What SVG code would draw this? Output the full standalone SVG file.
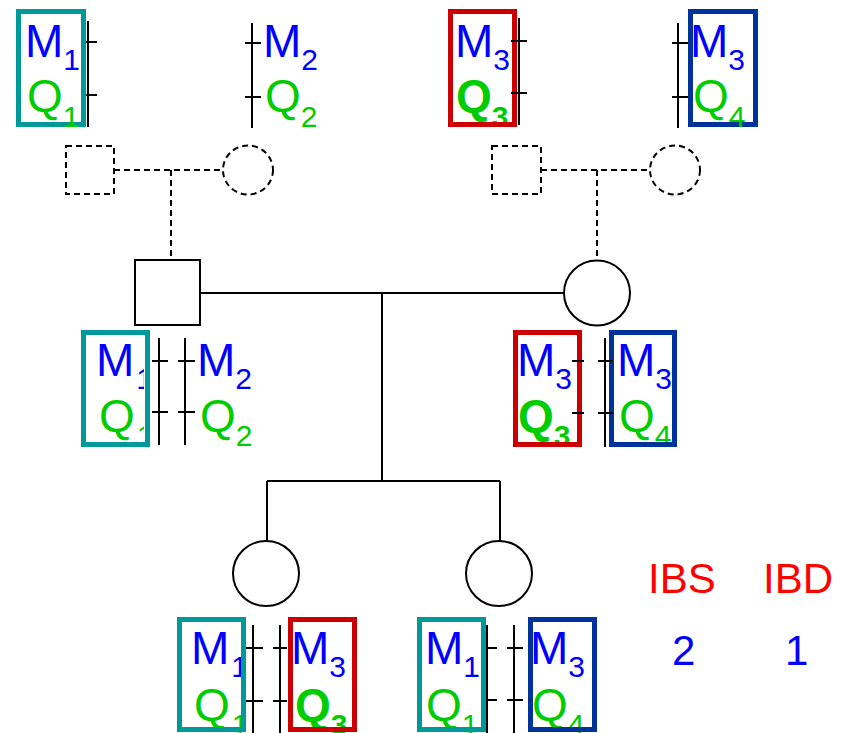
<svg xmlns="http://www.w3.org/2000/svg" width="845" height="733" viewBox="0 0 845 733">
<style>
text{font-family:"Liberation Sans",Arial,sans-serif;font-size:46px}
.m{fill:#0000ff}
.q{fill:#00cc00}
.b{font-weight:bold}
.sub{font-size:30px}
.box{fill:none;stroke-width:5}
.teal{stroke:#009999}
.red{stroke:#cc0000}
.navy{stroke:#003399}
.chr{stroke:#000;stroke-width:2;fill:none}
.ped{fill:#fff;stroke:#000;stroke-width:2}
.dash{stroke-dasharray:6 4}
.lbl{fill:#ff0000;font-size:42px}
.val{fill:#0000ff;font-size:42px}
</style>
<defs>
<clipPath id="clipMid"><rect x="81" y="330" width="63" height="117"/></clipPath>
<clipPath id="clipBot"><rect x="177" y="617" width="64" height="116"/></clipPath>
</defs>
<rect width="845" height="733" fill="#fff"/>

<g id="connectors" fill="none" stroke="#000" stroke-width="2">
<path class="dash" d="M114,170 H224 M171,170 V260"/>
<path class="dash" d="M541,170 H651 M597,170 V260"/>
<path d="M200,293 H564 M382,293 V481 M267,481 H500 M267,481 V541 M500,481 V541"/>
</g>

<g id="gp1-father"><rect class="ped dash" x="66" y="146" width="48" height="48"/></g>
<g id="gp1-mother"><ellipse class="ped dash" cx="248" cy="170" rx="25" ry="24.5"/></g>
<g id="gp2-father"><rect class="ped dash" x="492" y="146" width="49" height="48"/></g>
<g id="gp2-mother"><ellipse class="ped dash" cx="675" cy="170" rx="25" ry="24.5"/></g>
<g id="father"><rect class="ped" x="135" y="260" width="65" height="65"/></g>
<g id="mother"><ellipse class="ped" cx="597" cy="293" rx="33" ry="32.5"/></g>
<g id="child1"><ellipse class="ped" cx="266" cy="573.5" rx="33" ry="32.5"/></g>
<g id="child2"><ellipse class="ped" cx="499" cy="573.5" rx="33" ry="32.5"/></g>

<g id="hap-gp1-father">
<rect class="box teal" x="18.5" y="11.5" width="65" height="113"/>
<path class="chr" d="M88,21 V127 M86,42 H97 M86,95 H97"/>
<text x="25" y="57" class="m">M<tspan class="sub" dy="13">1</tspan></text>
<text x="27" y="112" class="q">Q<tspan class="sub" dy="15">1</tspan></text>
</g>

<g id="hap-gp1-mother">
<path class="chr" d="M252,23 V128 M245,43 H261 M245,97 H261"/>
<text x="263" y="57" class="m">M<tspan class="sub" dy="13">2</tspan></text>
<text x="265" y="112" class="q">Q<tspan class="sub" dy="15">2</tspan></text>
</g>

<g id="hap-gp2-father">
<path class="chr" d="M519,18 V125"/>
<text x="455" y="57" class="m">M<tspan class="sub" dy="13">3</tspan></text>
<text x="456" y="112" class="q b">Q<tspan class="sub" dy="15">3</tspan></text>
<rect class="box red" x="450.5" y="11.5" width="64" height="113"/>
<path class="chr" d="M511,41 H527 M511,93 H527"/>
</g>

<g id="hap-gp2-mother">
<path class="chr" d="M678,23 V128 M672,43 H688 M672,97 H688"/>
<rect class="box navy" x="690.5" y="11.5" width="65" height="113"/>
<text x="690" y="57" class="m">M<tspan class="sub" dy="13">3</tspan></text>
<text x="693" y="112" class="q">Q<tspan class="sub" dy="15">4</tspan></text>
</g>

<g id="hap-father">
<g clip-path="url(#clipMid)">
<text x="96" y="376" class="m">M<tspan class="sub" dx="2" dy="13">1</tspan></text>
<text x="99" y="432" class="q">Q<tspan class="sub" dx="2" dy="14">1</tspan></text>
</g>
<rect class="box teal" x="83.5" y="332.5" width="64" height="112"/>
<path class="chr" d="M159,338 V445 M185,338 V445 M152,361 H168 M152,412 H168 M178,361 H195 M178,412 H195"/>
<text x="197" y="376" class="m">M<tspan class="sub" dy="13">2</tspan></text>
<text x="200" y="432" class="q">Q<tspan class="sub" dy="14">2</tspan></text>
</g>

<g id="hap-mother">
<path class="chr" d="M578,338 V445 M605,338 V447"/>
<text x="517" y="376" class="m">M<tspan class="sub" dy="13">3</tspan></text>
<text x="518" y="432" class="q b">Q<tspan class="sub" dy="14">3</tspan></text>
<text x="617" y="376" class="m">M<tspan class="sub" dy="13">3</tspan></text>
<text x="619" y="432" class="q">Q<tspan class="sub" dy="14">4</tspan></text>
<rect class="box red" x="515.5" y="332.5" width="64" height="112"/>
<rect class="box navy" x="611.5" y="332.5" width="63" height="112"/>
<path class="chr" d="M572,361 H584 M572,413 H584 M598,361 H613 M598,413 H613"/>
</g>

<g id="hap-child1">
<g clip-path="url(#clipBot)">
<text x="191" y="664" class="m">M<tspan class="sub" dx="2" dy="13">1</tspan></text>
<text x="194" y="721" class="q">Q<tspan class="sub" dx="2" dy="14">1</tspan></text>
</g>
<text x="291" y="664" class="m">M<tspan class="sub" dy="13">3</tspan></text>
<text x="295" y="721" class="q b">Q<tspan class="sub" dy="14">3</tspan></text>
<rect class="box teal" x="179.5" y="619.5" width="64" height="110"/>
<rect class="box red" x="290.5" y="619.5" width="64" height="110"/>
<path class="chr" d="M253,625 V733 M280,625 V733 M246,648 H263 M246,701 H263 M273,648 H287 M273,701 H287"/>
</g>

<g id="hap-child2">
<text x="425" y="664" class="m">M<tspan class="sub" dy="13">1</tspan></text>
<text x="426" y="721" class="q">Q<tspan class="sub" dy="14">1</tspan></text>
<text x="530" y="664" class="m">M<tspan class="sub" dy="13">3</tspan></text>
<text x="532" y="721" class="q">Q<tspan class="sub" dy="14">4</tspan></text>
<rect class="box teal" x="419.5" y="619.5" width="64" height="110"/>
<rect class="box navy" x="530.5" y="619.5" width="64" height="110"/>
<path class="chr" d="M487,625 V733 M514,625 V733 M487,648 H497 M487,700 H497 M507,648 H523 M507,700 H523"/>
</g>

<g id="ibs-ibd">
<text x="648" y="593" class="lbl">IBS</text>
<text x="763" y="593" class="lbl">IBD</text>
<text x="672" y="665" class="val">2</text>
<text x="785" y="665" class="val">1</text>
</g>
</svg>
